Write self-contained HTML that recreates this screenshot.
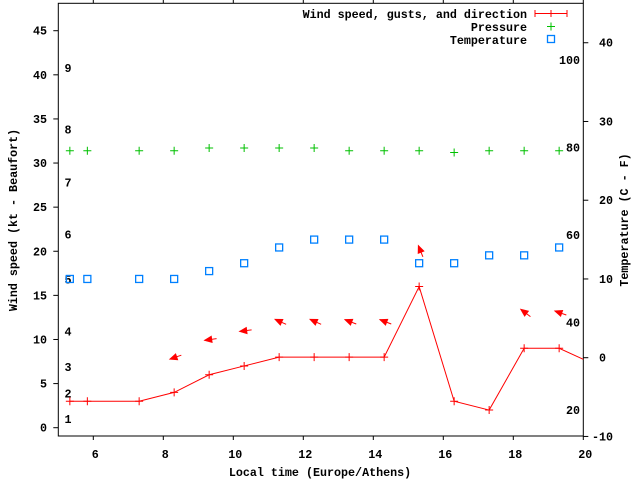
<!DOCTYPE html>
<html><head><meta charset="utf-8"><style>
body{margin:0;background:#fff}
svg{display:block;font-family:"Liberation Mono",monospace;font-weight:bold;font-size:11.7px}
</style></head><body>
<svg id="c" width="640" height="480" viewBox="0 0 640 480" xmlns="http://www.w3.org/2000/svg">
<rect x="0" y="0" width="640" height="480" fill="#fff"/>
<g id="axes"></g>
<g id="plot"></g>
<text x="320" y="476" text-anchor="middle">Local time (Europe/Athens)</text>
<text transform="translate(17,220) rotate(-90)" text-anchor="middle">Wind speed (kt - Beaufort)</text>
<text transform="translate(628,220) rotate(-90)" text-anchor="middle">Temperature (C - F)</text>
<g>
<text x="527" y="18" text-anchor="end">Wind speed, gusts, and direction</text>
<line x1="535" y1="13.5" x2="567" y2="13.5" stroke="#f00"/><line x1="535" y1="10" x2="535" y2="17" stroke="#f00"/><line x1="567" y1="10" x2="567" y2="17" stroke="#f00"/><line x1="551" y1="10" x2="551" y2="17" stroke="#f00"/>
<text x="527" y="31" text-anchor="end">Pressure</text>
<path d="M547 26.5h8M551 22.5v8" stroke="#00c000"/>
<text x="527" y="44" text-anchor="end">Temperature</text>
<rect x="547.5" y="35.5" width="7" height="7" fill="none" stroke="#0080ff" stroke-width="1.3"/>
</g>
</svg>
<script>
const hours=[5.33,5.83,7.31,8.31,9.31,10.31,11.31,12.31,13.31,14.31,15.31,16.31,17.31,18.31,19.31];
const windKt=[3,3,3,4,6,7,8,8,8,8,16,3,2,9,9];
const windEndHour=20, windEndKt=7.75;
const pressure=[31.4,31.4,31.4,31.4,31.7,31.7,31.7,31.7,31.4,31.4,31.4,31.2,31.4,31.4,31.4];
const tempC=[10,10,10,10,11,12,14,15,15,15,12,12,13,13,14];
const arrowHours=[8.31,9.31,10.31,11.31,12.31,13.31,14.31,15.31,18.31,19.31];
const arrowKt=[8,10,11,12,12,12,12,20,13,13];
const arrowAngle=[199,188,187,156,156,159,159,112,143,161];
const xTicks=[6,8,10,12,14,16,18,20];
const yTicks=[0,5,10,15,20,25,30,35,40,45];
const y2Ticks=[-10,0,10,20,30,40];
const beaufortLabels=["1","2","3","4","5","6","7","8","9"];
const beaufortKt=[1,3.9,6.9,10.9,16.8,21.9,27.8,33.8,40.8];
const fLabels=["100","80","60","40","20"];
const fValues=[100,80,60,40,20];

const L=58.3,R=583.3,T=3.3,B=436;
const X=h=>L+(h-5)*35;
const Y=k=>427.7-k*8.822;
const Y2=c=>357.7-c*7.874;
const NS="http://www.w3.org/2000/svg";
const ax=document.getElementById('axes'),pl=document.getElementById('plot');
function mk(tag,attrs,parent){const e=document.createElementNS(NS,tag);for(const k in attrs)e.setAttribute(k,attrs[k]);parent.appendChild(e);return e;}

const frame=mk('rect',{x:L,y:T,width:R-L,height:B-T,fill:'none',stroke:'#000'},ax);



xTicks.forEach(v=>{
  const x=X(v);
  mk('line',{x1:x,y1:B,x2:x,y2:B+4,stroke:'#000'},ax);
  mk('line',{x1:x,y1:T,x2:x,y2:T-4,stroke:'#000'},ax);
  const t=mk('text',{x:x+2,y:458,'text-anchor':'middle'},ax);t.textContent=v;
  
  
});
yTicks.forEach(v=>{
  const y=Y(v);
  mk('line',{x1:L-5,y1:y,x2:L,y2:y,stroke:'#000'},ax);
  const t=mk('text',{x:47,y:y+4,'text-anchor':'end'},ax);t.textContent=v;
  
  
});
y2Ticks.forEach(v=>{
  const y=Y2(v);
  mk('line',{x1:R,y1:y,x2:R+5,y2:y,stroke:'#000'},ax);
  const t=mk('text',{x:v<0?592:599,y:y+4},ax);t.textContent=v;
  
  
});
beaufortLabels.forEach((s,i)=>{
  const t=mk('text',{x:68,y:Y(beaufortKt[i])+4,'text-anchor':'middle'},ax);t.textContent=s;
  
  
});
fLabels.forEach((s,i)=>{
  const c=(fValues[i]-32)*5/9;
  const t=mk('text',{x:580,y:Y2(c)+4,'text-anchor':'end'},ax);t.textContent=s;
  
  
});

// wind line
let pts=hours.map((h,i)=>X(h)+','+Y(windKt[i]));pts.push(X(windEndHour)+','+Y(windEndKt));
const wl=mk('polyline',{points:pts.join(' '),fill:'none',stroke:'#f00'},pl);


hours.forEach((h,i)=>{
  const x=X(h),y=Y(windKt[i]);
  const p=mk('path',{d:`M${x-4} ${y}h8M${x} ${y-4}v8`,stroke:'#f00'},pl);
  
  
});
// pressure
hours.forEach((h,i)=>{
  const x=X(h),y=Y(pressure[i]);
  const p=mk('path',{d:`M${x-4} ${y}h8M${x} ${y-4}v8`,stroke:'#00c000'},pl);
  
  
});
// temperature
hours.forEach((h,i)=>{
  const x=X(h),y=Y2(tempC[i]);
  const r=mk('rect',{x:x-3.5,y:y-3.5,width:7,height:7,fill:'none',stroke:'#0080ff','stroke-width':1.3},pl);
  
  
});
// direction arrows
arrowHours.forEach((h,i)=>{
  const cx=X(h)+1.5,cy=Y(arrowKt[i]);
  const a=arrowAngle[i]*Math.PI/180,dx=Math.cos(a),dy=-Math.sin(a);
  const hx=cx+dx*6,hy=cy+dy*6,tx=cx-dx*6,ty=cy-dy*6;
  const g=mk('g',{},pl);
  
  
  mk('line',{x1:tx,y1:ty,x2:hx,y2:hy,stroke:'#f00'},g);
  const bx=hx-dx*7,by=hy-dy*7,px=-dy*3,py=dx*3;
  mk('polygon',{points:`${hx},${hy} ${bx+px},${by+py} ${bx-px},${by-py}`,fill:'#f00',stroke:'#f00'},g);
});
</script>
</body></html>
